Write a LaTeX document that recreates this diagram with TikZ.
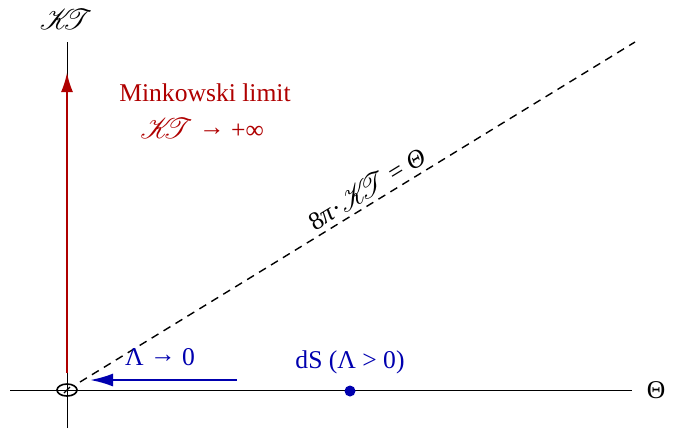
\documentclass[tikz,border=0pt]{standalone}
\usepackage{fontspec}
\setmainfont{Liberation Serif}
\usepackage{mathrsfs}
\usetikzlibrary{arrows.meta}
\definecolor{myred}{RGB}{175,0,0}
\definecolor{myblue}{RGB}{0,0,175}
\newcommand{\KTsym}{{\fontsize{15.5}{17}\selectfont$\mathscr{K}\mkern-8mu\mathscr{T}$}}
\newcommand{\arr}{\raisebox{0.12em}{→}}
\tikzset{
  lbl/.style={font=\fontsize{12.8}{15}\selectfont, inner sep=0pt},
  axis/.style={line width=0.45pt, black},
}
\begin{document}
\begin{tikzpicture}[x=0.5pt,y=-0.5pt]
\useasboundingbox (0,0) rectangle (688,430);
\coordinate (O) at (67,390);
\coordinate (xl) at (10,390);
\coordinate (xr) at (632,390);
\coordinate (yt) at (67,42);
\coordinate (yb) at (67,428);
\coordinate (rb) at (67,373);
\coordinate (rt) at (67,72);
\coordinate (dt) at (635,42);
\coordinate (d0) at (80,382);
\coordinate (ba) at (237,380);
\coordinate (bb) at (90,380);
\draw[axis] (xl) -- (xr);
\draw[axis] (yb) -- (yt);
\draw[myred, line width=1.3pt, -{Latex[length=10pt,width=6pt]}] (rb) -- (rt);
\draw[line width=0.8pt] (O) ellipse [x radius=10, y radius=6];
\draw[line width=0.6pt] (64,393) -- (70,387);
\draw[dashed, line width=0.7pt, dash pattern=on 4pt off 3pt] (d0) -- (dt);
\draw[myblue, line width=1.1pt, -{Latex[length=11.5pt,width=6.5pt]}] (ba) -- (bb);
\fill[myblue] (350,391) circle [radius=5.5];
\node[lbl] (kt) at (66,19) {\KTsym};
\node[lbl] (th) at (656,390) {Θ};
\node[lbl, myred] (mk) at (205,93) {Minkowski limit};
\node[lbl, myred] (mk2) at (202,128) {\KTsym\ \arr\ +∞};
\node[lbl, rotate=31.5, anchor=south] (eq) at (372,197) {8\textit{π}·\KTsym\ = \textit{Θ}};
\node[lbl, myblue] (lam) at (160,357) {Λ \arr\ 0};
\node[lbl, myblue] (ds) at (350,362) {dS (Λ > 0)};
\end{tikzpicture}
\end{document}
